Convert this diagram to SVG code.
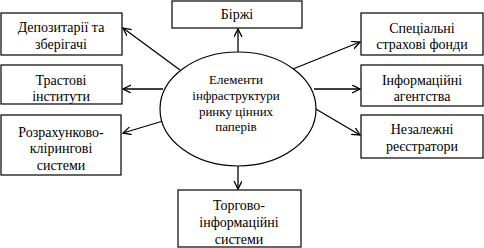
<svg xmlns="http://www.w3.org/2000/svg" width="484" height="248" viewBox="0 0 484 248">
<style>
.box{fill:#fff;stroke:#000;stroke-width:1.2}
.t{font-family:"Liberation Serif","Times New Roman",serif;font-size:14px;text-anchor:middle;fill:#000}
.e{font-family:"Liberation Serif","Times New Roman",serif;font-size:13px;text-anchor:middle;fill:#000}
.c{stroke:#000;stroke-width:1.3;fill:none;marker-end:url(#ah)}
</style>
<defs>
<marker id="ah" markerWidth="10" markerHeight="10" refX="8" refY="4" orient="auto" markerUnits="userSpaceOnUse">
<path d="M0,0 L8,4 L0,8" fill="none" stroke="#000" stroke-width="1.3"/>
</marker>
</defs>
<rect width="484" height="248" fill="#fff"/>
<g id="connectors">
<line class="c" x1="238" y1="52" x2="238" y2="29"/>
<line class="c" x1="238" y1="166" x2="238" y2="189"/>
<line class="c" x1="180" y1="70" x2="123" y2="28"/>
<line class="c" x1="163" y1="89" x2="123" y2="89"/>
<line class="c" x1="163" y1="121" x2="123" y2="133"/>
<line class="c" x1="293" y1="69" x2="360" y2="42"/>
<line class="c" x1="314" y1="89" x2="360" y2="89"/>
<line class="c" x1="309" y1="105" x2="360" y2="135"/>
</g>
<g id="center">
<ellipse cx="238" cy="109" rx="78" ry="57" fill="#fff" stroke="#000" stroke-width="1.2"/>
<text class="e" x="236" y="84">Елементи</text>
<text class="e" x="236" y="100">інфраструктури</text>
<text class="e" x="236" y="116">ринку цінних</text>
<text class="e" x="236" y="131">паперів</text>
</g>
<g id="birzhi">
<rect class="box" x="172" y="1" width="130" height="27"/>
<text class="t" x="237" y="19">Біржі</text>
</g>
<g id="depozytarii">
<rect class="box" x="1" y="13" width="121" height="42"/>
<text class="t" x="61" y="32">Депозитарії та</text>
<text class="t" x="61" y="49">зберігачі</text>
</g>
<g id="trastovi">
<rect class="box" x="1" y="65" width="121" height="39"/>
<text class="t" x="61" y="85">Трастові</text>
<text class="t" x="61" y="101">інститути</text>
</g>
<g id="rozrakhunkovo">
<rect class="box" x="1" y="115" width="120" height="60"/>
<text class="t" x="61" y="137">Розрахунково-</text>
<text class="t" x="61" y="153">клірингові</text>
<text class="t" x="61" y="170">системи</text>
</g>
<g id="spetsialni">
<rect class="box" x="361" y="13" width="122" height="42"/>
<text class="t" x="422" y="33">Спеціальні</text>
<text class="t" x="422" y="49">страхові фонди</text>
</g>
<g id="informatsiini">
<rect class="box" x="361" y="65" width="122" height="41"/>
<text class="t" x="422" y="85">Інформаційні</text>
<text class="t" x="422" y="101">агентства</text>
</g>
<g id="nezalezhni">
<rect class="box" x="361" y="115" width="122" height="43"/>
<text class="t" x="422" y="134">Незалежні</text>
<text class="t" x="422" y="151">реєстратори</text>
</g>
<g id="torgovo">
<rect class="box" x="178" y="190" width="123" height="57"/>
<text class="t" x="239" y="210">Торгово-</text>
<text class="t" x="239" y="227">інформаційні</text>
<text class="t" x="239" y="244">системи</text>
</g>
</svg>
